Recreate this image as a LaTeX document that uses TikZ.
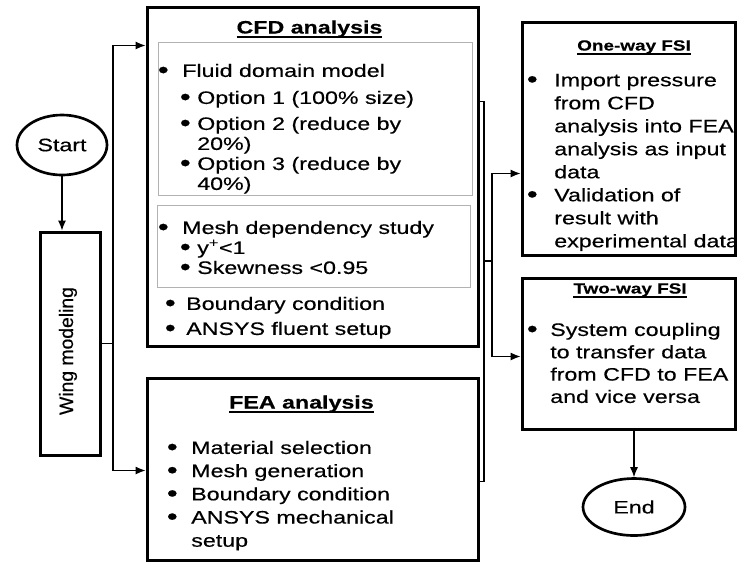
\documentclass[tikz,border=0pt]{standalone}
\usepackage{fontspec}
\setmainfont{Liberation Sans}[FakeStretch=1.29,FakeBold=0.4]
\newfontfamily\wingfont{Liberation Sans}[FakeBold=0.4]
\usetikzlibrary{positioning,calc,fit,shapes.geometric,arrows.meta}

\newcommand{\fsz}[1]{\fontsize{13.5pt}{#1}\selectfont}
\newcommand{\bul}[1]{\llap{\raisebox{-0.8pt}[0pt][0pt]{\fontsize{18pt}{0pt}\selectfont\textbullet}\hspace{\dimexpr#1-1.1pt\relax}}}
\newcommand{\ttlul}[1]{\setbox0\hbox{#1}\rlap{\rule[-3pt]{\wd0}{1.4pt}}\box0}

\begin{document}
\begin{tikzpicture}[x=0.75pt,y=-0.75pt,
    box/.style={draw,line width=2.25pt,inner sep=0pt},
    subbox/.style={draw=gray!60,line width=0.7pt,inner sep=0pt},
    oval/.style={draw,ellipse,line width=2pt,inner sep=0pt,font=\fsz{16pt}},
    conn/.style={line width=0.8pt},
    arr/.style={conn,-{Latex[length=7.5pt,width=6pt]}},
    txt/.style={align=left,inner sep=0pt,anchor=north west},
    ttl/.style={inner sep=0pt,anchor=base,font=\bfseries\fsz{16pt}},
    fsittl/.style={inner sep=0pt,anchor=base,font={\bfseries\fontsize{11pt}{13pt}\selectfont}}]
  \useasboundingbox (0,0) rectangle (737,562);

  \node[oval,minimum width=67.5pt,minimum height=45pt] (start) at (62,145) {Start};
  \node[box,fit={(40,232) (100,455)}] (wing) {};
  \node[rotate=90,inner sep=0pt,font={\wingfont\fontsize{14.5pt}{17pt}\selectfont}] (wingtxt) at (68,351) {Wing modeling};

  \node[box,fit={(147,7) (478,346)}] (cfd) {};
  \node[subbox,fit={(158,42) (472,195)}] (fluid) {};
  \node[subbox,fit={(157,205) (470,287)}] (mesh) {};
  \node[ttl] (cfdttl) at (309.5,33.5) {\ttlul{CFD analysis}};
  \node[txt,font=\fsz{15pt}] (fluidtxt) at (182,63.6) {\bul{11.25pt}Fluid domain model\\[5.25pt]
    \hspace*{11.25pt}\bul{6pt}Option 1 (100\% size)\\[4.5pt]
    \hspace*{11.25pt}\bul{6pt}Option 2 (reduce by\\
    \hspace*{11.25pt}20\%)\\
    \hspace*{11.25pt}\bul{6pt}Option 3 (reduce by\\
    \hspace*{11.25pt}40\%)};
  \node[txt,font=\fsz{15pt}] (meshtxt) at (182,220.6) {\bul{11.25pt}Mesh dependency study\\
    \hspace*{11.25pt}\bul{6pt}y\textsuperscript{+}<1\\
    \hspace*{11.25pt}\bul{6pt}Skewness <0.95};
  \node[txt,font=\fsz{18.75pt}] (cfdtxt) at (186,296.6) {\bul{9pt}Boundary condition\\
    \bul{9pt}ANSYS fluent setup};

  \node[box,fit={(147,378) (478,560)}] (fea) {};
  \node[ttl] (featl) at (301.5,408.5) {\ttlul{FEA analysis}};
  \node[txt,font=\fsz{17.4pt}] (featxt) at (191,440.6) {\bul{11.25pt}Material selection\\
    \bul{11.25pt}Mesh generation\\
    \bul{11.25pt}Boundary condition\\
    \bul{11.25pt}ANSYS mechanical\\
    setup};

  \node[box,fit={(522,22) (735,255)}] (oneway) {};
  \node[fsittl] (onewayttl) at (634,50.5) {\ttlul{One-way FSI}};
  \node[txt,font=\fsz{17.25pt}] (onewaytxt) at (554,73.6) {\bul{13.5pt}Import pressure\\
    from CFD\\
    analysis into FEA\\
    analysis as input\\
    data\\
    \bul{13.5pt}Validation of\\
    result with\\
    experimental data};

  \node[box,fit={(522,278) (735,429)}] (twoway) {};
  \node[fsittl] (twowayttl) at (630,293.5) {\ttlul{Two-way FSI}};
  \node[txt,font=\fsz{16.75pt}] (twowaytxt) at (550,322.6) {\bul{10.5pt}System coupling\\
    to transfer data\\
    from CFD to FEA\\
    and vice versa};

  \node[oval,minimum width=76.5pt,minimum height=42.75pt] (stop) at (634,507) {End};

  \coordinate (lbus) at (113,0);
  \coordinate (cfdin) at ($(cfd.north west)+(0,40)$);
  \coordinate (feain) at ($(fea.north west)+(0,94)$);
  \coordinate (cfdout) at ($(cfd.north east)+(0,96)$);
  \coordinate (feaout) at ($(fea.north east)+(0,105)$);
  \coordinate (rbus) at (484,0);
  \coordinate (fsibus) at (492,261);
  \coordinate (owin) at ($(oneway.north west)+(0,153)$);
  \coordinate (twin) at ($(twoway.north west)+(0,80)$);

  \draw[arr] (start.south) -- (start.south |- wing.north);
  \draw[conn] (wing.east) -- (wing.east -| lbus);
  \draw[arr] (wing.east -| lbus) |- (cfdin);
  \draw[arr] (wing.east -| lbus) |- (feain);
  \draw[conn] (cfdout) -| (rbus |- feaout) -- (feaout);
  \draw[conn] (rbus |- fsibus) -- (fsibus);
  \draw[arr] (fsibus) |- (owin);
  \draw[arr] (fsibus) |- (twin);
  \draw[arr] (stop.north |- twoway.south) -- (stop.north);
\end{tikzpicture}
\end{document}
